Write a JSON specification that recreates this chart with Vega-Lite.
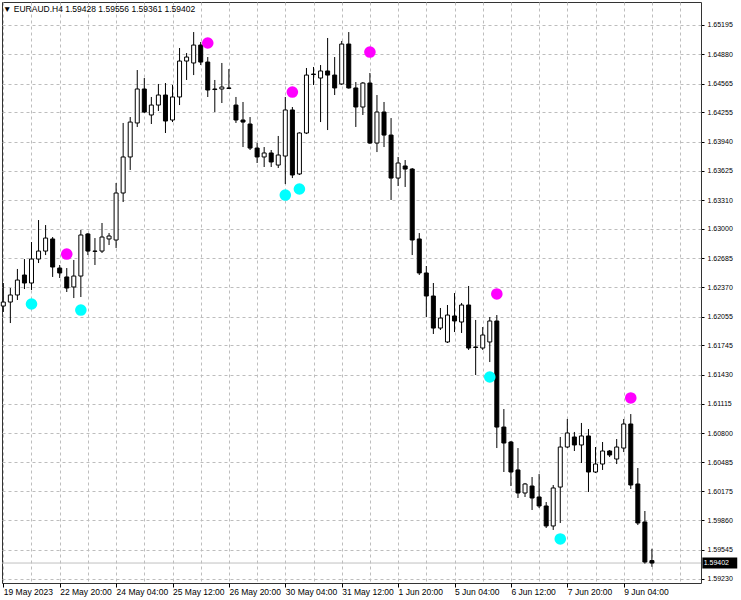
{
  "$schema": "https://vega.github.io/schema/vega-lite/v6.json",
  "width": 699,
  "height": 581,
  "autosize": "none",
  "padding": {"left": 2, "top": 2, "right": 40, "bottom": 17},
  "background": "#ffffff",
  "config": {
    "view": {"stroke": "#333333", "strokeWidth": 1},
    "font": "Liberation Sans",
    "axisX": {
      "labelAlign": "left",
      "labelBaseline": "top",
      "labelPadding": 0,
      "labelFontSize": 8.5,
      "labelFont": "Liberation Sans",
      "labelColor": "#000000",
      "labelOverlap": false,
      "labelFlush": false,
      "labelBound": false,
      "tickSize": 4,
      "tickColor": "#000000",
      "domain": false,
      "grid": true,
      "gridColor": "#bdbdbd",
      "gridDash": [3, 3],
      "gridWidth": 1
    },
    "axisY": {
      "labelFontSize": 7,
      "labelFont": "Liberation Sans",
      "labelColor": "#000000",
      "labelPadding": 3,
      "labelOverlap": false,
      "labelBound": false,
      "labelFlush": false,
      "tickSize": 3,
      "tickColor": "#000000",
      "domain": false,
      "grid": true,
      "gridColor": "#bdbdbd",
      "gridDash": [3, 3],
      "gridWidth": 1
    }
  },
  "title": {
    "text": "▼ EURAUD.H4  1.59428 1.59556 1.59361 1.59402",
    "anchor": "start",
    "frame": "group",
    "offset": -11,
    "dx": 1,
    "fontSize": 8.5,
    "fontWeight": "normal",
    "font": "Liberation Sans",
    "color": "#000000"
  },
  "datasets": {
    "bars": [
      {"i":0,"o":1.62169,"h":1.62417,"l":1.62105,"c":1.62212},
      {"i":1,"o":1.62212,"h":1.62363,"l":1.61986,"c":1.62288},
      {"i":2,"o":1.62288,"h":1.62568,"l":1.62234,"c":1.62449},
      {"i":3,"o":1.62503,"h":1.62675,"l":1.62352,"c":1.62417},
      {"i":4,"o":1.62417,"h":1.62858,"l":1.62342,"c":1.62675},
      {"i":5,"o":1.62675,"h":1.63095,"l":1.62632,"c":1.62761},
      {"i":6,"o":1.62761,"h":1.63041,"l":1.62718,"c":1.62901},
      {"i":7,"o":1.62891,"h":1.62912,"l":1.62482,"c":1.62589},
      {"i":8,"o":1.62578,"h":1.62611,"l":1.62471,"c":1.62525},
      {"i":9,"o":1.62482,"h":1.62578,"l":1.62320,"c":1.62363},
      {"i":10,"o":1.62374,"h":1.62665,"l":1.62255,"c":1.62492},
      {"i":11,"o":1.62492,"h":1.62988,"l":1.62266,"c":1.62934},
      {"i":12,"o":1.62945,"h":1.62955,"l":1.62718,"c":1.62761},
      {"i":13,"o":1.62761,"h":1.62901,"l":1.62611,"c":1.62758},
      {"i":14,"o":1.62761,"h":1.63063,"l":1.62740,"c":1.62912},
      {"i":15,"o":1.62891,"h":1.62955,"l":1.62826,"c":1.62923},
      {"i":16,"o":1.62880,"h":1.63494,"l":1.62794,"c":1.63386},
      {"i":17,"o":1.63386,"h":1.64140,"l":1.63289,"c":1.63774},
      {"i":18,"o":1.63774,"h":1.64204,"l":1.63634,"c":1.64150},
      {"i":19,"o":1.64140,"h":1.64710,"l":1.64097,"c":1.64506},
      {"i":20,"o":1.64506,"h":1.64624,"l":1.64247,"c":1.64258},
      {"i":21,"o":1.64226,"h":1.64420,"l":1.64129,"c":1.64333},
      {"i":22,"o":1.64333,"h":1.64560,"l":1.64269,"c":1.64441},
      {"i":23,"o":1.64441,"h":1.64570,"l":1.64032,"c":1.64161},
      {"i":24,"o":1.64172,"h":1.64549,"l":1.64150,"c":1.64420},
      {"i":25,"o":1.64420,"h":1.64947,"l":1.64333,"c":1.64807},
      {"i":26,"o":1.64807,"h":1.64893,"l":1.64603,"c":1.64850},
      {"i":27,"o":1.64786,"h":1.65119,"l":1.64656,"c":1.64979},
      {"i":28,"o":1.64979,"h":1.65012,"l":1.64764,"c":1.64796},
      {"i":29,"o":1.64796,"h":1.64850,"l":1.64420,"c":1.64495},
      {"i":30,"o":1.64506,"h":1.64603,"l":1.64258,"c":1.64500},
      {"i":31,"o":1.64506,"h":1.64786,"l":1.64355,"c":1.64527},
      {"i":32,"o":1.64517,"h":1.64721,"l":1.64506,"c":1.64512},
      {"i":33,"o":1.64333,"h":1.64420,"l":1.64140,"c":1.64172},
      {"i":34,"o":1.64172,"h":1.64366,"l":1.63881,"c":1.64150},
      {"i":35,"o":1.64129,"h":1.64204,"l":1.63849,"c":1.63870},
      {"i":36,"o":1.63870,"h":1.63924,"l":1.63709,"c":1.63774},
      {"i":37,"o":1.63774,"h":1.63881,"l":1.63666,"c":1.63817},
      {"i":38,"o":1.63817,"h":1.63849,"l":1.63666,"c":1.63720},
      {"i":39,"o":1.63687,"h":1.64000,"l":1.63655,"c":1.63795},
      {"i":40,"o":1.63784,"h":1.64420,"l":1.63483,"c":1.64280},
      {"i":41,"o":1.64280,"h":1.64312,"l":1.63547,"c":1.63580},
      {"i":42,"o":1.63591,"h":1.64040,"l":1.63580,"c":1.64032},
      {"i":43,"o":1.64032,"h":1.64732,"l":1.64021,"c":1.64656},
      {"i":44,"o":1.64667,"h":1.64743,"l":1.64549,"c":1.64662},
      {"i":45,"o":1.64624,"h":1.64764,"l":1.64150,"c":1.64700},
      {"i":46,"o":1.64700,"h":1.65055,"l":1.64064,"c":1.64656},
      {"i":47,"o":1.64656,"h":1.64850,"l":1.64441,"c":1.64517},
      {"i":48,"o":1.64560,"h":1.65023,"l":1.64549,"c":1.64990},
      {"i":49,"o":1.64990,"h":1.65119,"l":1.64510,"c":1.64517},
      {"i":50,"o":1.64517,"h":1.64581,"l":1.64097,"c":1.64312},
      {"i":51,"o":1.64312,"h":1.64581,"l":1.64226,"c":1.64570},
      {"i":52,"o":1.64570,"h":1.64678,"l":1.63915,"c":1.63924},
      {"i":53,"o":1.63924,"h":1.64441,"l":1.63827,"c":1.64258},
      {"i":54,"o":1.64258,"h":1.64366,"l":1.63881,"c":1.64010},
      {"i":55,"o":1.64010,"h":1.64193,"l":1.63311,"c":1.63547},
      {"i":56,"o":1.63547,"h":1.63774,"l":1.63461,"c":1.63709},
      {"i":57,"o":1.63677,"h":1.63741,"l":1.63451,"c":1.63644},
      {"i":58,"o":1.63644,"h":1.63655,"l":1.62718,"c":1.62880},
      {"i":59,"o":1.62891,"h":1.62955,"l":1.62503,"c":1.62525},
      {"i":60,"o":1.62525,"h":1.62600,"l":1.62051,"c":1.62277},
      {"i":61,"o":1.62277,"h":1.62417,"l":1.61868,"c":1.61932},
      {"i":62,"o":1.61932,"h":1.62148,"l":1.61911,"c":1.62040},
      {"i":63,"o":1.61782,"h":1.62180,"l":1.61771,"c":1.62072},
      {"i":64,"o":1.62062,"h":1.62309,"l":1.61889,"c":1.62008},
      {"i":65,"o":1.61997,"h":1.62202,"l":1.61879,"c":1.62180},
      {"i":66,"o":1.62180,"h":1.62385,"l":1.61696,"c":1.61717},
      {"i":67,"o":1.61728,"h":1.62019,"l":1.61426,"c":1.61723},
      {"i":68,"o":1.61717,"h":1.61943,"l":1.61696,"c":1.61857},
      {"i":69,"o":1.61782,"h":1.62051,"l":1.61566,"c":1.62008},
      {"i":70,"o":1.62008,"h":1.62072,"l":1.60640,"c":1.60866},
      {"i":71,"o":1.60866,"h":1.61060,"l":1.60382,"c":1.60694},
      {"i":72,"o":1.60705,"h":1.60716,"l":1.60231,"c":1.60382},
      {"i":73,"o":1.60404,"h":1.60640,"l":1.60102,"c":1.60156},
      {"i":74,"o":1.60156,"h":1.60264,"l":1.60113,"c":1.60253},
      {"i":75,"o":1.60231,"h":1.60328,"l":1.59973,"c":1.60102},
      {"i":76,"o":1.60113,"h":1.60360,"l":1.59994,"c":1.60016},
      {"i":77,"o":1.60016,"h":1.60059,"l":1.59779,"c":1.59801},
      {"i":78,"o":1.59801,"h":1.60242,"l":1.59758,"c":1.60210},
      {"i":79,"o":1.60220,"h":1.60759,"l":1.59833,"c":1.60651},
      {"i":80,"o":1.60651,"h":1.60953,"l":1.60640,"c":1.60802},
      {"i":81,"o":1.60759,"h":1.60813,"l":1.60608,"c":1.60673},
      {"i":82,"o":1.60673,"h":1.60910,"l":1.60479,"c":1.60770},
      {"i":83,"o":1.60770,"h":1.60845,"l":1.60167,"c":1.60382},
      {"i":84,"o":1.60382,"h":1.60651,"l":1.60371,"c":1.60468},
      {"i":85,"o":1.60468,"h":1.60705,"l":1.60404,"c":1.60608},
      {"i":86,"o":1.60608,"h":1.60619,"l":1.60543,"c":1.60565},
      {"i":87,"o":1.60522,"h":1.60737,"l":1.60468,"c":1.60651},
      {"i":88,"o":1.60640,"h":1.60953,"l":1.60597,"c":1.60899},
      {"i":89,"o":1.60899,"h":1.61006,"l":1.60199,"c":1.60242},
      {"i":90,"o":1.60253,"h":1.60425,"l":1.59811,"c":1.59833},
      {"i":91,"o":1.59844,"h":1.59962,"l":1.59395,"c":1.59413},
      {"i":92,"o":1.59428,"h":1.59556,"l":1.59361,"c":1.59402}
    ],
    "dots": [
      {"i":9,"p":1.62729,"kind":"up"},
      {"i":29,"p":1.65001,"kind":"up"},
      {"i":41,"p":1.64473,"kind":"up"},
      {"i":52,"p":1.64904,"kind":"up"},
      {"i":70,"p":1.62299,"kind":"up"},
      {"i":89,"p":1.61179,"kind":"up"},
      {"i":4,"p":1.62191,"kind":"down"},
      {"i":11,"p":1.62126,"kind":"down"},
      {"i":40,"p":1.63364,"kind":"down"},
      {"i":42,"p":1.63429,"kind":"down"},
      {"i":69,"p":1.61405,"kind":"down"},
      {"i":79,"p":1.59661,"kind":"down"}
    ]
  },
  "layer": [
    {
      "data": {"name": "bars"},
      "transform": [{"filter": "datum.i == 92"}],
      "mark": {"type": "rule", "color": "#c0c0c0", "strokeWidth": 1},
      "encoding": {
        "y": {"field": "c", "type": "quantitative", "title": null,
          "scale": {"domain": [1.591869, 1.654426], "nice": false, "zero": false, "padding": 0},
          "axis": {"orient": "right", "title": null, "format": ".5f",
            "values": [1.65195,1.6488,1.64565,1.64255,1.6394,1.63625,1.6331,1.63,1.62685,1.6237,1.62055,1.61745,1.6143,1.61115,1.608,1.60485,1.60175,1.5986,1.59545,1.5923]}}
      }
    },
    {
      "data": {"name": "bars"},
      "mark": {"type": "rule", "color": "#000000", "strokeWidth": 1},
      "encoding": {
        "x": {"field": "i", "type": "quantitative", "title": null,
          "scale": {"domain": [-0.184, 98.96], "nice": false, "zero": false, "padding": 0},
          "axis": {"title": null,
            "values": [0,4,8,12,16,20,24,28,32,36,40,44,48,52,56,60,64,68,72,76,80,84,88,92,96],
            "labelExpr": "datum.value % 8 == 0 ? ['19 May 2023','22 May 20:00','24 May 04:00','25 May 12:00','26 May 20:00','30 May 04:00','31 May 12:00','1 Jun 20:00','5 Jun 04:00','6 Jun 12:00','7 Jun 20:00','9 Jun 04:00','',''][datum.value/8] : ''",
            "tickOpacity": {"condition": {"test": "datum.value % 8 == 0 && datum.value <= 88", "value": 1}, "value": 0}}},
        "y": {"field": "l", "type": "quantitative", "title": null,
          "scale": {"domain": [1.591869, 1.654426], "nice": false, "zero": false, "padding": 0},
          "axis": {"orient": "right", "title": null, "format": ".5f",
            "values": [1.65195,1.6488,1.64565,1.64255,1.6394,1.63625,1.6331,1.63,1.62685,1.6237,1.62055,1.61745,1.6143,1.61115,1.608,1.60485,1.60175,1.5986,1.59545,1.5923]}},
        "y2": {"field": "h"}
      }
    },
    {
      "data": {"name": "bars"},
      "mark": {"type": "bar", "size": 4, "stroke": "#000000", "strokeWidth": 1, "orient": "vertical"},
      "encoding": {
        "x": {"field": "i", "type": "quantitative", "title": null,
          "scale": {"domain": [-0.184, 98.96], "nice": false, "zero": false, "padding": 0},
          "axis": {"title": null,
            "values": [0,4,8,12,16,20,24,28,32,36,40,44,48,52,56,60,64,68,72,76,80,84,88,92,96],
            "labelExpr": "datum.value % 8 == 0 ? ['19 May 2023','22 May 20:00','24 May 04:00','25 May 12:00','26 May 20:00','30 May 04:00','31 May 12:00','1 Jun 20:00','5 Jun 04:00','6 Jun 12:00','7 Jun 20:00','9 Jun 04:00','',''][datum.value/8] : ''",
            "tickOpacity": {"condition": {"test": "datum.value % 8 == 0 && datum.value <= 88", "value": 1}, "value": 0}}},
        "y": {"field": "o", "type": "quantitative", "title": null,
          "scale": {"domain": [1.591869, 1.654426], "nice": false, "zero": false, "padding": 0},
          "axis": {"orient": "right", "title": null, "format": ".5f",
            "values": [1.65195,1.6488,1.64565,1.64255,1.6394,1.63625,1.6331,1.63,1.62685,1.6237,1.62055,1.61745,1.6143,1.61115,1.608,1.60485,1.60175,1.5986,1.59545,1.5923]}},
        "y2": {"field": "c"},
        "fill": {"condition": {"test": "datum.c < datum.o", "value": "#000000"}, "value": "#ffffff"}
      }
    },
    {
      "data": {"name": "dots"},
      "mark": {"type": "circle", "size": 135, "opacity": 1},
      "encoding": {
        "x": {"field": "i", "type": "quantitative", "title": null,
          "scale": {"domain": [-0.184, 98.96], "nice": false, "zero": false, "padding": 0},
          "axis": {"title": null,
            "values": [0,4,8,12,16,20,24,28,32,36,40,44,48,52,56,60,64,68,72,76,80,84,88,92,96],
            "labelExpr": "datum.value % 8 == 0 ? ['19 May 2023','22 May 20:00','24 May 04:00','25 May 12:00','26 May 20:00','30 May 04:00','31 May 12:00','1 Jun 20:00','5 Jun 04:00','6 Jun 12:00','7 Jun 20:00','9 Jun 04:00','',''][datum.value/8] : ''",
            "tickOpacity": {"condition": {"test": "datum.value % 8 == 0 && datum.value <= 88", "value": 1}, "value": 0}}},
        "y": {"field": "p", "type": "quantitative", "title": null,
          "scale": {"domain": [1.591869, 1.654426], "nice": false, "zero": false, "padding": 0},
          "axis": {"orient": "right", "title": null, "format": ".5f",
            "values": [1.65195,1.6488,1.64565,1.64255,1.6394,1.63625,1.6331,1.63,1.62685,1.6237,1.62055,1.61745,1.6143,1.61115,1.608,1.60485,1.60175,1.5986,1.59545,1.5923]}},
        "color": {
          "field": "kind",
          "type": "nominal",
          "scale": {"domain": ["up", "down"], "range": ["#ff00ff", "#00ffff"]},
          "legend": null
        }
      }
    },
    {
      "data": {"name": "bars"},
      "transform": [{"filter": "datum.i == 92"}],
      "mark": {"type": "bar", "orient": "horizontal", "size": 11, "color": "#000000"},
      "encoding": {
        "x": {"datum": 99.15, "type": "quantitative", "title": null,
          "scale": {"domain": [-0.184, 98.96], "nice": false, "zero": false, "padding": 0},
          "axis": {"title": null,
            "values": [0,4,8,12,16,20,24,28,32,36,40,44,48,52,56,60,64,68,72,76,80,84,88,92,96],
            "labelExpr": "datum.value % 8 == 0 ? ['19 May 2023','22 May 20:00','24 May 04:00','25 May 12:00','26 May 20:00','30 May 04:00','31 May 12:00','1 Jun 20:00','5 Jun 04:00','6 Jun 12:00','7 Jun 20:00','9 Jun 04:00','',''][datum.value/8] : ''",
            "tickOpacity": {"condition": {"test": "datum.value % 8 == 0 && datum.value <= 88", "value": 1}, "value": 0}}},
        "x2": {"datum": 104.1},
        "y": {"field": "c", "type": "quantitative", "title": null,
          "scale": {"domain": [1.591869, 1.654426], "nice": false, "zero": false, "padding": 0},
          "axis": {"orient": "right", "title": null, "format": ".5f",
            "values": [1.65195,1.6488,1.64565,1.64255,1.6394,1.63625,1.6331,1.63,1.62685,1.6237,1.62055,1.61745,1.6143,1.61115,1.608,1.60485,1.60175,1.5986,1.59545,1.5923]}}
      }
    },
    {
      "data": {"name": "bars"},
      "transform": [{"filter": "datum.i == 92"}],
      "mark": {"type": "text", "align": "left", "baseline": "middle", "color": "#ffffff", "fontSize": 7, "font": "Liberation Sans", "dx": 1},
      "encoding": {
        "x": {"datum": 99.2, "type": "quantitative", "title": null,
          "scale": {"domain": [-0.184, 98.96], "nice": false, "zero": false, "padding": 0},
          "axis": {"title": null,
            "values": [0,4,8,12,16,20,24,28,32,36,40,44,48,52,56,60,64,68,72,76,80,84,88,92,96],
            "labelExpr": "datum.value % 8 == 0 ? ['19 May 2023','22 May 20:00','24 May 04:00','25 May 12:00','26 May 20:00','30 May 04:00','31 May 12:00','1 Jun 20:00','5 Jun 04:00','6 Jun 12:00','7 Jun 20:00','9 Jun 04:00','',''][datum.value/8] : ''",
            "tickOpacity": {"condition": {"test": "datum.value % 8 == 0 && datum.value <= 88", "value": 1}, "value": 0}}},
        "y": {"field": "c", "type": "quantitative", "title": null,
          "scale": {"domain": [1.591869, 1.654426], "nice": false, "zero": false, "padding": 0},
          "axis": {"orient": "right", "title": null, "format": ".5f",
            "values": [1.65195,1.6488,1.64565,1.64255,1.6394,1.63625,1.6331,1.63,1.62685,1.6237,1.62055,1.61745,1.6143,1.61115,1.608,1.60485,1.60175,1.5986,1.59545,1.5923]}},
        "text": {"field": "c", "type": "quantitative", "format": ".5f"}
      }
    }
  ]
}
